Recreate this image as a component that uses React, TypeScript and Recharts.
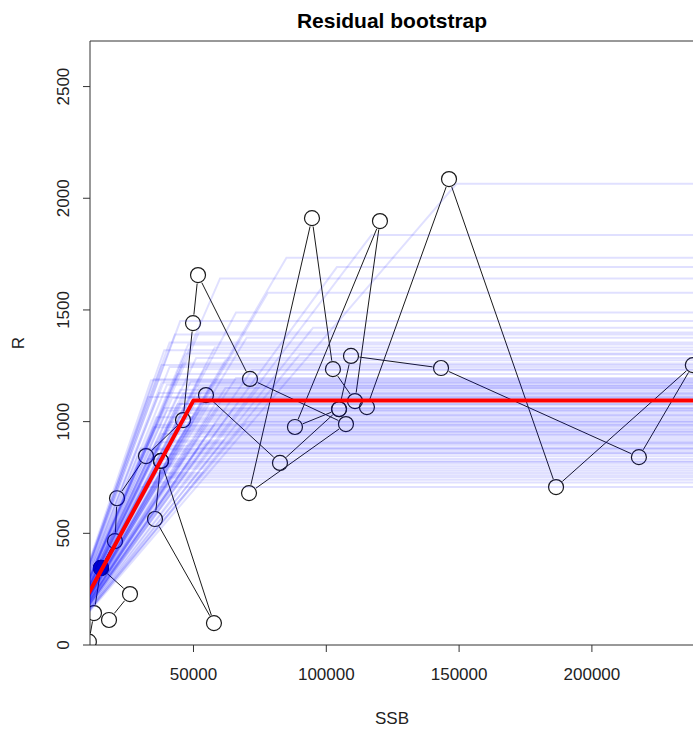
import React from 'react';
import { ComposedChart, Line, Scatter, XAxis, YAxis, ReferenceArea } from 'recharts';

const FONT = '"Liberation Sans", Arial, Helvetica, sans-serif';

// Axis setup
const xDomain = [11032, 238818];
const yDomain = [0, 2704];
const xTicks = [50000, 100000, 150000, 200000];
const yTicks = [0, 500, 1000, 1500, 2000, 2500];

// Observed stock-recruitment pairs, as connected paths (SSB, R)
const pathMainSSB = [10600, 12540, 15170, 20440, 21200, 32115, 46050, 49810, 51700, 71270, 107400, 70900, 94610, 102500, 110800, 120200, 88200, 104800, 109300, 143200, 217700, 238000, 186500, 146200, 115300];
const pathMainR = [15, 143, 345, 465, 657, 846, 1007, 1441, 1656, 1191, 989, 680, 1911, 1235, 1092, 1898, 976, 1056, 1294, 1240, 841, 1253, 707, 2086, 1065];
const pathBSSB = [104800, 82560, 54700];
const pathBR = [1056, 815, 1119];
const pathCSSB = [15170, 26090, 18185];
const pathCR = [345, 228, 112];
const pathDSSB = [37760, 35500, 57700, 37760];
const pathDR = [824, 564, 98, 824];
const highlightSSB = [15170];
const highlightR = [345];

// Fitted hockey-stick (breakpoint SSB, plateau R)
const fitKnee = 50000;
const fitPlateau = 1095;

// Bootstrap hockey-stick replicates: breakpoint SSB and plateau R
const bootKnee = [
  149000, 117000, 85000, 104000, 60000, 78000, 66000, 52000, 70000, 41000,
  58000, 47000, 62000, 38000, 54000, 44000, 66000, 49000, 57000, 40000,
  51000, 62000, 45000, 53000, 37000, 58000, 47000, 42000, 55000, 50000,
  44000, 60000, 39000, 48000, 52000, 43000, 56000, 36000, 46000, 50000,
  41000, 58000, 44000, 35000, 49000, 40000, 53000, 38000, 45000, 62000,
  42000, 36000, 48000, 40000, 52000, 34000, 44000, 39000, 47000, 33000,
  42000, 37000, 45000, 36000, 40000, 32000, 30000, 45000, 35000, 65000,
  55000, 70000, 75000, 30000, 33000, 72000, 90000, 95000, 43000, 48000,
  39000, 51000, 46000, 41000, 54000, 37000, 49000, 44000, 42000, 47000,
  38000, 52000, 45000, 40000, 50000, 36000, 43000, 55000, 34000, 46000,
];
const bootPlateau = [
  2065, 1835, 1734, 1692, 1641, 1577, 1488, 1399, 1376, 1354,
  1332, 1305, 1275, 1254, 1235, 1213, 1195, 1180, 1172, 1165,
  1158, 1150, 1143, 1135, 1128, 1120, 1113, 1106, 1100, 1090,
  1079, 1072, 1061, 1054, 1046, 1038, 1027, 1020, 1012, 1004,
  997, 989, 982, 975, 967, 960, 952, 945, 933, 925,
  915, 908, 900, 892, 882, 875, 866, 856, 845, 833,
  822, 811, 790, 770, 751, 728, 707, 1450, 1190, 1060,
  940, 1000, 1160, 880, 1110, 1230, 1300, 1420, 1390, 1345,
  1320, 1285, 1260, 1245, 780, 800, 820, 740, 760, 860,
  1175, 1150, 1080, 1050, 1030, 985, 955, 905, 1185, 1125,
];
const curveStartSSB = 0;
const curveEndSSB = 300000;

const toPts = (xs: number[], ys: number[]) => xs.map((x, i) => ({ ssb: x, r: ys[i] }));
const stick = (knee: number, plateau: number) => [
  { ssb: curveStartSSB, r: 0 },
  { ssb: knee, r: plateau },
  { ssb: curveEndSSB, r: plateau },
];

const RAD = 7.5;

const gapLine = (props: any) => {
  const pts = props.points || [];
  const g = RAD + 1;
  const segs: any[] = [];
  for (let i = 0; i < pts.length - 1; i++) {
    const a = pts[i];
    const b = pts[i + 1];
    const dx = b.x - a.x;
    const dy = b.y - a.y;
    const len = Math.hypot(dx, dy);
    if (len <= 2 * g) continue;
    const ux = dx / len;
    const uy = dy / len;
    segs.push(
      <line key={i} x1={a.x + ux * g} y1={a.y + uy * g} x2={b.x - ux * g} y2={b.y - uy * g} stroke="#1a1a1a" strokeWidth={1} />
    );
  }
  return <g>{segs}</g>;
};

const openCircle = (p: any) => (
  <circle cx={p.cx} cy={p.cy} r={RAD} fill="none" fillOpacity={0} stroke="#1a1a1a" strokeWidth={1.2} />
);
const filledCircle = (p: any) => (
  <circle cx={p.cx} cy={p.cy} r={RAD} fill="#0c0c8c" stroke="#08085a" strokeWidth={1} />
);

const YTick = (props: any) => {
  const { x, y, payload } = props;
  const bx = x - 12;
  return (
    <text x={bx} y={y} transform={`rotate(-90 ${bx} ${y})`} textAnchor="middle" fontSize={17} fontFamily={FONT} fill="#222">
      {payload.value}
    </text>
  );
};

const paths = [
  toPts(pathMainSSB, pathMainR),
  toPts(pathBSSB, pathBR),
  toPts(pathCSSB, pathCR),
  toPts(pathDSSB, pathDR),
];

export default function App() {
  return (
    <div style={{ position: 'fixed', left: 0, top: 0, width: 693, height: 729, overflow: 'hidden', background: '#fff' }}>
      <ComposedChart width={760} height={729} margin={{ top: 41, right: 65, bottom: 0, left: 0 }}>
        <XAxis
          type="number"
          dataKey="ssb"
          domain={xDomain}
          allowDataOverflow
          ticks={xTicks}
          interval={0}
          height={84}
          tickSize={7}
          tickMargin={16}
          axisLine={false}
          tickLine={{ stroke: '#333' }}
          tick={{ fontSize: 17, fill: '#222', fontFamily: FONT }}
        />
        <YAxis
          type="number"
          dataKey="r"
          domain={yDomain}
          allowDataOverflow
          ticks={yTicks}
          interval={0}
          width={90}
          tickSize={7}
          axisLine={false}
          tickLine={{ stroke: '#333' }}
          tick={YTick}
        />
        <ReferenceArea x1={xDomain[0]} x2={xDomain[1]} y1={yDomain[0]} y2={yDomain[1]} fill="none" stroke="#333" strokeWidth={1} ifOverflow="visible" />
        {paths.map((d, i) => (
          <Scatter key={'p' + i} data={d} dataKey="r" shape={openCircle} line={gapLine} isAnimationActive={false} zIndex={350} />
        ))}
        <Scatter data={toPts(highlightSSB, highlightR)} dataKey="r" shape={filledCircle} isAnimationActive={false} zIndex={350} />
        {bootKnee.map((k, i) => (
          <Line
            key={'b' + i}
            data={stick(k, bootPlateau[i])}
            dataKey="r"
            type="linear"
            dot={false}
            activeDot={false}
            stroke="#0000ff"
            strokeOpacity={0.12}
            strokeWidth={2}
            isAnimationActive={false}
          />
        ))}
        <Line
          data={stick(fitKnee, fitPlateau)}
          dataKey="r"
          type="linear"
          dot={false}
          activeDot={false}
          stroke="#ff0000"
          strokeWidth={4}
          strokeLinejoin="round"
          isAnimationActive={false}
        />
      </ComposedChart>
      <svg width={693} height={729} style={{ position: 'absolute', left: 0, top: 0, pointerEvents: 'none' }}>
        <text x={392} y={28} textAnchor="middle" fontWeight="bold" fontSize={21} fontFamily={FONT} fill="#000">
          Residual bootstrap
        </text>
        <text x={392} y={724} textAnchor="middle" fontSize={17} fontFamily={FONT} fill="#222">
          SSB
        </text>
        <text x={24} y={343} transform="rotate(-90 24 343)" textAnchor="middle" fontSize={17} fontFamily={FONT} fill="#222">
          R
        </text>
      </svg>
    </div>
  );
}
